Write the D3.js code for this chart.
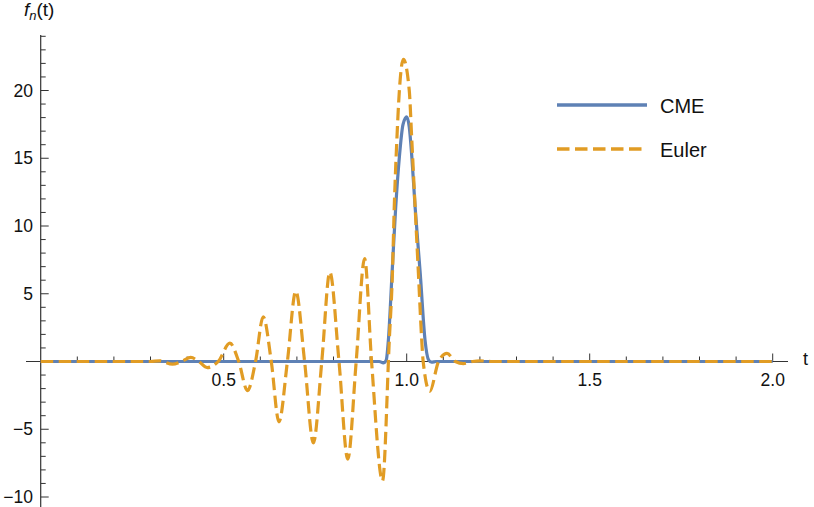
<!DOCTYPE html>
<html>
<head>
<meta charset="utf-8">
<script src="https://cdn.jsdelivr.net/npm/d3@7"></script>
<style>
  body { margin: 0; background: #fff; }
  svg text { font-family: "Liberation Sans", Arial, sans-serif; fill: #111; }
</style>
</head>
<body>
<svg id="canvas" width="814" height="507"></svg>
<script>
// datos
const cmeT = [0, 0.925, 0.936, 0.944, 0.950, 0.960, 0.970, 0.980, 0.990, 1.000, 1.007, 1.014, 1.023, 1.037, 1.050, 1.060, 1.068, 1.08, 2.0];
const cmeV = [0, 0, -0.1, 0.1, 1.6, 6.5, 11.4, 15.1, 17.5, 18.05, 17.3, 15.1, 11.4, 6.5, 1.6, 0.1, -0.05, 0, 0];

const eulerT = [0, 0.30, 0.325, 0.36, 0.385, 0.41, 0.432, 0.455, 0.485, 0.517, 0.541, 0.565, 0.587, 0.608, 0.630, 0.651, 0.674, 0.697, 0.721, 0.745, 0.768, 0.790, 0.815, 0.839, 0.862, 0.885, 0.904, 0.934, 0.9525, 0.961, 0.966, 0.973, 0.980, 0.991, 1.007, 1.014, 1.023, 1.032, 1.041, 1.045, 1.063, 1.087, 1.110, 1.133, 1.155, 1.18, 1.20, 1.23, 2.0];
const eulerV = [0, 0, 0.05, -0.2, 0, 0.3, 0, -0.45, 0, 1.35, 0, -2.15, 0, 3.3, 0, -4.45, 0, 5.2, 0, -6.0, 0, 6.6, 0, -7.2, 0, 7.6, 0, -8.8, 1.6, 6.5, 11.4, 16.3, 20, 22.3, 20, 16.3, 11.4, 6.5, 1.6, 0, -2.2, 0, 0.6, 0, -0.15, 0, 0.05, 0, 0];

const xTicks = [0.5, 1.0, 1.5, 2.0];
const yTicks = [-10, -5, 5, 10, 15, 20];
const series = ["CME", "Euler"];
const colores = ["#5E81B5", "#E19C24"];

const svg = d3.select("#canvas");

const x = d3.scaleLinear().domain([0, 2]).range([40.7, 772.7]);
const y = d3.scaleLinear().domain([0, 20]).range([361.5, 90.5]);

const ejeColor = "#333";

// eje x
svg.append("line")
    .attr("x1", 26).attr("x2", 788)
    .attr("y1", y(0)).attr("y2", y(0))
    .attr("stroke", ejeColor).attr("stroke-width", 1.2);

const minorX = d3.range(1, 21).map(i => i / 10);
svg.selectAll(".tx")
    .data(minorX)
    .enter().append("line")
    .attr("x1", d => x(d)).attr("x2", d => x(d))
    .attr("y1", y(0))
    .attr("y2", (d, i) => (i + 1) % 5 === 0 ? y(0) - 8 : y(0) - 5)
    .attr("stroke", ejeColor).attr("stroke-width", 1);

svg.selectAll(".lx")
    .data(xTicks)
    .enter().append("text")
    .attr("x", d => x(d))
    .attr("y", y(0) + 24)
    .attr("text-anchor", "middle")
    .attr("font-size", 17.5)
    .text(d => d.toFixed(1));

// eje y
svg.append("line")
    .attr("x1", x(0)).attr("x2", x(0))
    .attr("y1", y(24.1)).attr("y2", 507)
    .attr("stroke", ejeColor).attr("stroke-width", 1.2);

const minorY = d3.range(-10, 25).filter(v => v !== 0);
svg.selectAll(".ty")
    .data(minorY)
    .enter().append("line")
    .attr("x1", x(0))
    .attr("x2", d => d % 5 === 0 ? x(0) + 8 : x(0) + 5)
    .attr("y1", d => y(d)).attr("y2", d => y(d))
    .attr("stroke", ejeColor).attr("stroke-width", 1);

svg.selectAll(".ly")
    .data(yTicks)
    .enter().append("text")
    .attr("x", 33)
    .attr("y", d => y(d) + 6)
    .attr("text-anchor", "end")
    .attr("font-size", 17.5)
    .text(d => d < 0 ? "\u2212" + Math.abs(d) : d);

// etiquetas de ejes
svg.append("text")
    .attr("x", 803).attr("y", 365)
    .attr("font-size", 18)
    .text("t");

const lab = svg.append("text")
    .attr("x", 24).attr("y", 16)
    .attr("font-size", 19);
lab.append("tspan").attr("font-style", "italic").text("f");
lab.append("tspan").attr("font-style", "italic").attr("font-size", 13).attr("dy", 4).text("n");
lab.append("tspan").attr("dy", -4).text("(t)");

// curvas
const linea = d3.line()
    .x(d => x(d[0]))
    .y(d => y(d[1]))
    .curve(d3.curveMonotoneX);

svg.append("path")
    .attr("d", linea(d3.zip(cmeT, cmeV)))
    .attr("fill", "none")
    .attr("stroke", colores[0])
    .attr("stroke-width", 3.2);

svg.append("path")
    .attr("d", linea(d3.zip(eulerT, eulerV)))
    .attr("fill", "none")
    .attr("stroke", colores[1])
    .attr("stroke-width", 3.2)
    .attr("stroke-dasharray", "12.5,5.5");

// leyenda
series.forEach((s, i) => {
    const ly = 105 + i * 44;
    svg.append("line")
        .attr("x1", 557).attr("x2", 647)
        .attr("y1", ly).attr("y2", ly)
        .attr("stroke", colores[i])
        .attr("stroke-width", 3.5)
        .attr("stroke-dasharray", i === 1 ? "12.5,5.5" : null);
    svg.append("text")
        .attr("x", 660).attr("y", ly + 8)
        .attr("font-size", 20)
        .text(s);
});
</script>
</body>
</html>
